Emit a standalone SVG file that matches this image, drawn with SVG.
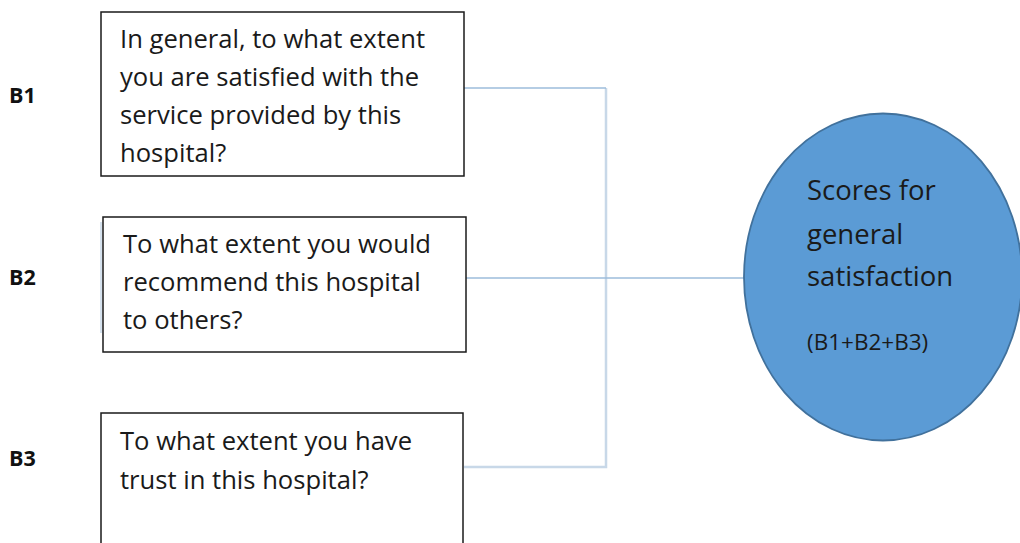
<svg xmlns="http://www.w3.org/2000/svg" width="1020" height="543" viewBox="0 0 1020 543">
  <style>
    .box { fill: #ffffff; stroke: #1a1a1a; stroke-width: 1.5; }
    .q { font-family: "Open Sans", Lato, sans-serif; font-size: 25.6px; fill: #1a1a1a; }
    .lbl { font-family: "Open Sans", "Liberation Sans", sans-serif; font-size: 21.5px; font-weight: bold; fill: #111111; }
    .link { fill: none; stroke: #9dbcdb; stroke-width: 1.5; }
    .linkSoft { fill: none; stroke: #c8d8e8; stroke-width: 2.5; }
    .score { fill: #5b9bd5; stroke: #41719c; stroke-width: 1.8; }
    .st { font-family: "Open Sans", Lato, sans-serif; font-size: 27.5px; fill: #1a1a1a; }
    .sf { font-family: "Open Sans", Lato, sans-serif; font-size: 22.5px; fill: #1a1a1a; }
  </style>
  <rect width="1020" height="543" fill="#ffffff"/>

  <!-- connectors joining the three questions into the score -->
  <g id="connectors">
    <path class="linkSoft" d="M 606 88 V 467 H 464"/>
    <path class="link" d="M 464 88 H 606"/>
    <path class="link" d="M 466 278 H 745"/>
    <line x1="101" y1="222" x2="101" y2="333" stroke="#c8d8e8" stroke-width="1.5"/>
  </g>

  <g id="label-b1"><text class="lbl" x="9" y="103">B1</text></g>
  <g id="label-b2"><text class="lbl" x="9" y="285">B2</text></g>
  <g id="label-b3"><text class="lbl" x="9" y="466">B3</text></g>

  <g id="question-b1">
    <rect class="box" x="101" y="12" width="363" height="164"/>
    <text class="q" x="120" y="48">In general, to what extent</text>
    <text class="q" x="120" y="86">you are satisfied with the</text>
    <text class="q" x="120" y="124">service provided by this</text>
    <text class="q" x="120" y="162">hospital?</text>
  </g>

  <g id="question-b2">
    <rect class="box" x="103" y="217" width="363" height="135"/>
    <text class="q" x="123" y="253">To what extent you would</text>
    <text class="q" x="123" y="291">recommend this hospital</text>
    <text class="q" x="123" y="329">to others?</text>
  </g>

  <g id="question-b3">
    <rect class="box" x="101" y="413" width="362" height="140"/>
    <text class="q" x="120" y="450">To what extent you have</text>
    <text class="q" x="120" y="489">trust in this hospital?</text>
  </g>

  <g id="general-score">
    <ellipse class="score" cx="883" cy="277" rx="139" ry="163.5"/>
    <text class="st" x="807" y="200">Scores for</text>
    <text class="st" x="807" y="244">general</text>
    <text class="st" x="807" y="286">satisfaction</text>
    <text class="sf" x="807" y="350">(B1+B2+B3)</text>
  </g>
</svg>
